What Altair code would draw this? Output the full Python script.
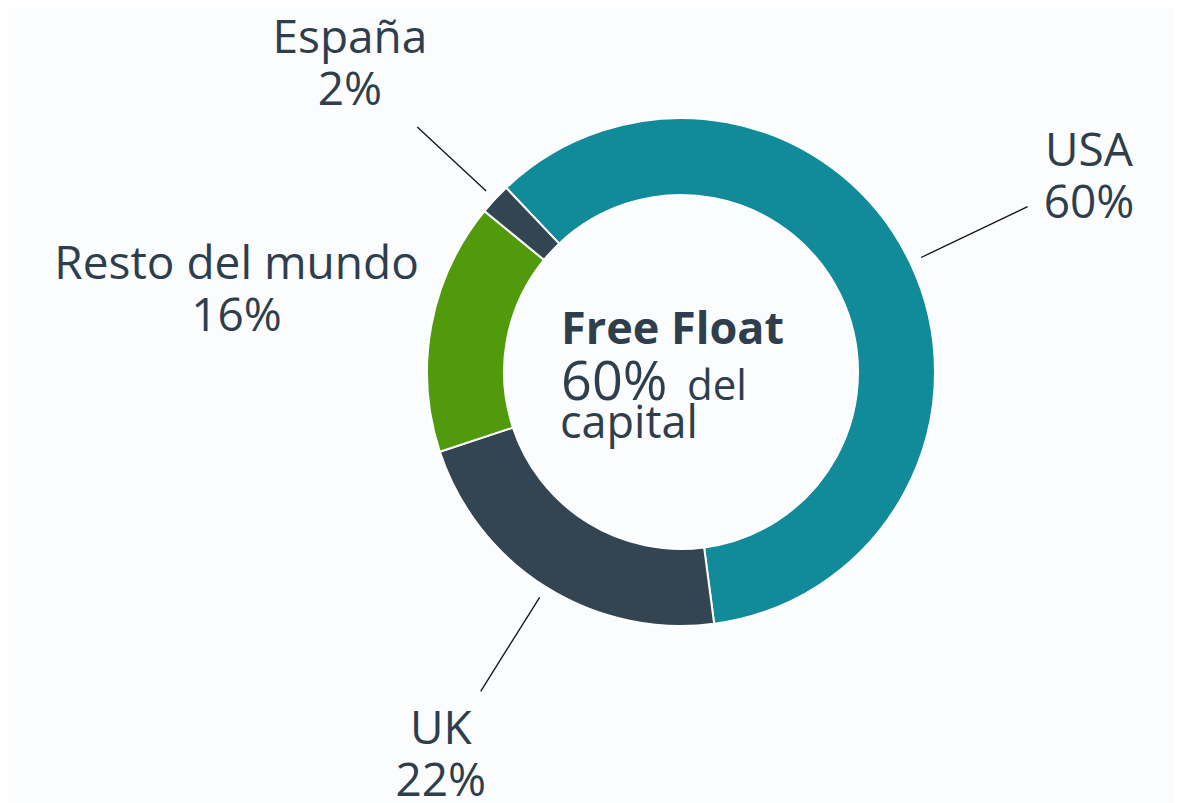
import math
import altair as alt
import pandas as pd

# ---- data ----
regions = ["USA", "UK", "Resto del mundo", "España"]
shares = [60, 22, 16, 2]
pct_labels = ["60%", "22%", "16%", "2%"]
colors = ["#118A99", "#334452", "#509A0C", "#334452"]
has_leader = [True, True, False, True]
leader_end = [384, 377, 0, 360]

center_title = "Free Float"
center_big = "60%"
center_small = ["del", "capital"]

# ---- layout ----
W, H = 1167, 787
CX, CY = 673, 364          # donut centre within the plot area
R_OUT, R_IN = 254, 177
R_LABEL = 452
R_LEADER0 = 266
START = math.radians(-43.5)

total = sum(shares)
rows = []
cum = 0.0
for i, (reg, v) in enumerate(zip(regions, shares)):
    mid = START + 2 * math.pi * (cum + v / 2) / total
    cum += v
    rows.append(dict(
        region=reg, share=v, order=i, label=f"{reg}\n{pct_labels[i]}",
        lx=R_LABEL * math.sin(mid), ly=-R_LABEL * math.cos(mid),
        ax=R_LEADER0 * math.sin(mid), ay=-R_LEADER0 * math.cos(mid),
        bx=leader_end[i] * math.sin(mid), by=-leader_end[i] * math.cos(mid),
        leader=has_leader[i],
    ))
df = pd.DataFrame(rows)

xs = alt.Scale(domain=[-CX, W - CX], range=[0, W])
ys = alt.Scale(domain=[-CY, H - CY], range=[0, H])
FONT = "Open Sans"
TXT = "#2F3E4C"

base = alt.Chart(df)

donut = base.mark_arc(outerRadius=R_OUT, innerRadius=R_IN, stroke="#FFFFFF", strokeWidth=2).encode(
    theta=alt.Theta("share:Q", stack=True,
                    scale=alt.Scale(range=[START, START + 2 * math.pi])),
    order=alt.Order("order:Q"),
    color=alt.Color("region:N", scale=alt.Scale(domain=regions, range=colors), legend=None),
    x=alt.datum(0, scale=xs, axis=None),
    y=alt.datum(0, scale=ys, axis=None),
)

leaders = base.transform_filter("datum.leader").mark_rule(color="#111111", strokeWidth=1.3).encode(
    x=alt.X("ax:Q", scale=xs, axis=None), y=alt.Y("ay:Q", scale=ys, axis=None),
    x2="bx:Q", y2="by:Q",
)

labels = base.mark_text(font=FONT, fontSize=46, color=TXT, align="center",
                        baseline="middle", lineBreak="\n", lineHeight=52, dy=-25).encode(
    x=alt.X("lx:Q", scale=xs, axis=None), y=alt.Y("ly:Q", scale=ys, axis=None),
    text="label:N",
)

def ctext(txt, dx, dy, size, weight="normal"):
    return alt.Chart(pd.DataFrame({"t": [txt]})).mark_text(
        font=FONT, fontSize=size, fontWeight=weight, color=TXT,
        align="left", baseline="alphabetic").encode(
        x=alt.datum(dx, scale=xs, axis=None), y=alt.datum(dy, scale=ys, axis=None),
        text="t:N")

center = (ctext(center_title, -120, -28, 45, "bold")
          + ctext(center_big, -120, 28, 54)
          + ctext(center_small[0], 6, 28, 42)
          + ctext(center_small[1], -121, 66, 45))

chart = alt.layer(donut, leaders, labels, center).properties(
    width=W, height=H, background="#FBFCFD", padding=0
).configure_view(stroke=None)

chart.save("out.html", embed_options={"renderer": "svg", "actions": False})
